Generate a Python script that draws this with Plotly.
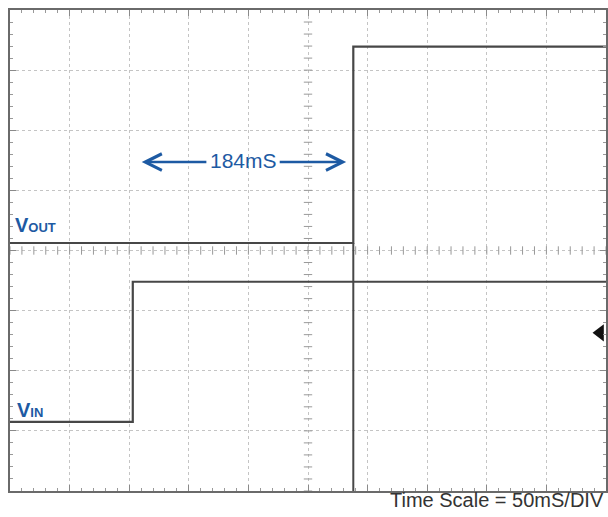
import numpy as np
import plotly.graph_objects as go

# ---- data (time in ms, amplitude in scope divisions) ----
time_end_ms = 500
vin_rise_ms = 103
vout_rise_ms = 288
vin_low, vin_high = -2.85, -0.52
vout_low, vout_high = 0.125, 3.39
trigger_level = -1.37
trigger_marker_ms = 495
delay_label = "184mS"
arrow_left_ms, arrow_right_ms = 110.5, 282
arrow_y = 1.47
scale_label = "Time Scale = 50mS/DIV"

vin_t = [0, vin_rise_ms, vin_rise_ms, time_end_ms]
vin_v = [vin_low, vin_low, vin_high, vin_high]
vout_t = [0, vout_rise_ms, vout_rise_ms, time_end_ms]
vout_v = [vout_low, vout_low, vout_high, vout_high]

BLUE = "#1d5aa3"
TRACE = "#474747"
FONT = "Liberation Sans, Arial, sans-serif"

fig = go.Figure()

# center graticule tick marks
cx = np.arange(0, time_end_ms + 0.1, 10)
cy = np.arange(-4, 4.01, 0.2)
fig.add_trace(go.Scatter(x=cx, y=np.zeros_like(cx), mode="markers",
                         marker=dict(symbol="line-ns", size=6, line=dict(width=1, color="#999")),
                         hoverinfo="skip", showlegend=False))
fig.add_trace(go.Scatter(x=np.full_like(cy, 250), y=cy, mode="markers",
                         marker=dict(symbol="line-ew", size=6, line=dict(width=1, color="#999")),
                         hoverinfo="skip", showlegend=False))

# cursor line at VOUT step down to bottom
fig.add_shape(type="line", x0=vout_rise_ms, x1=vout_rise_ms, y0=-4, y1=vout_low,
              line=dict(color=TRACE, width=2))

fig.add_trace(go.Scatter(x=vin_t, y=vin_v, mode="lines", line=dict(color=TRACE, width=2.2),
                         showlegend=False, name="VIN"))
fig.add_trace(go.Scatter(x=vout_t, y=vout_v, mode="lines", line=dict(color=TRACE, width=2.2),
                         showlegend=False, name="VOUT"))

# trigger marker near right edge
fig.add_trace(go.Scatter(x=[trigger_marker_ms], y=[trigger_level], mode="markers",
                         marker=dict(symbol="triangle-left", size=15, color="#111"),
                         cliponaxis=False, showlegend=False, hoverinfo="skip"))

annotations = [
    dict(x=2.5, y=0.42, xref="x", yref="y", xanchor="left", yanchor="middle", showarrow=False,
         text="<b>V<span style='font-size:13px'>OUT</span></b>",
         font=dict(family=FONT, size=20, color=BLUE)),
    dict(x=4.5, y=-2.65, xref="x", yref="y", xanchor="left", yanchor="middle", showarrow=False,
         text="<b>V<span style='font-size:13px'>IN</span></b>",
         font=dict(family=FONT, size=20, color=BLUE)),
    dict(x=(arrow_left_ms + arrow_right_ms) / 2, y=arrow_y + 0.03, xref="x", yref="y",
         showarrow=False, text=delay_label, font=dict(family=FONT, size=21, color=BLUE)),
    dict(x=arrow_left_ms, y=arrow_y, ax=166, ay=arrow_y, xref="x", yref="y",
         axref="x", ayref="y", text="", showarrow=True, arrowhead=5, arrowsize=1.3,
         arrowwidth=2.5, arrowcolor=BLUE, standoff=0, startstandoff=0),
    dict(x=arrow_right_ms, y=arrow_y, ax=225, ay=arrow_y, xref="x", yref="y",
         axref="x", ayref="y", text="", showarrow=True, arrowhead=5, arrowsize=1.3,
         arrowwidth=2.5, arrowcolor=BLUE, standoff=0, startstandoff=0),
    dict(x=1, y=0, xref="paper", yref="paper", xanchor="right", yanchor="top", yshift=4,
         showarrow=False, text=scale_label, font=dict(family=FONT, size=20, color="#333")),
]

axis_common = dict(showline=True, linecolor="#6a6a6a", linewidth=2, mirror="ticks",
                   ticks="inside", ticklen=6, tickcolor="#8a8a8a", showticklabels=False,
                   showgrid=True, gridcolor="#c4c4c4", gridwidth=1, griddash="dot",
                   zeroline=False, fixedrange=True)

fig.update_layout(
    width=608, height=517,
    margin=dict(l=10, r=0, t=10, b=26),
    paper_bgcolor="white", plot_bgcolor="white",
    xaxis=dict(range=[0, time_end_ms], dtick=50, tick0=0,
               minor=dict(ticks="inside", dtick=10, ticklen=3, tickcolor="#999", showgrid=False),
               **axis_common),
    yaxis=dict(range=[-4, 4], dtick=1, tick0=0,
               minor=dict(ticks="inside", dtick=0.2, ticklen=3, tickcolor="#999", showgrid=False),
               **axis_common),
    annotations=annotations,
    showlegend=False,
)

fig.write_html("out.html", config={"displayModeBar": False},
               post_script="document.body.style.margin='0';document.body.style.overflow='hidden';")
